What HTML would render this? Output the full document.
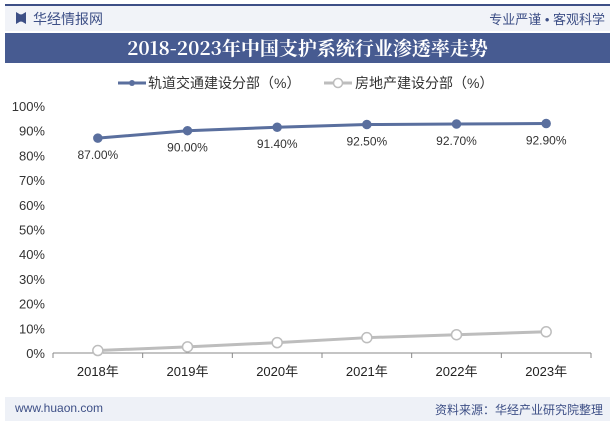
<!DOCTYPE html>
<html><head><meta charset="utf-8"><style>
body{margin:0;width:615px;height:426px;background:#fff;font-family:"Liberation Sans","Noto Sans CJK SC",sans-serif;position:relative;overflow:hidden}
.abs{position:absolute}
</style></head><body>
<div class="abs" style="left:5px;top:4px;width:605px;height:2px;background:#3d4f86"></div>
<div class="abs" style="left:5px;top:6px;width:605px;height:25px;background:#f1f3f8"></div>
<div class="abs" style="left:16px;top:12px;width:10px;height:12px;background:#3d4f86;clip-path:polygon(0 0,40% 20%,60% 20%,100% 0,100% 100%,60% 80%,40% 80%,0 100%)"></div>
<div class="abs" style="left:33px;top:9px;font-size:14px;color:#3d4f86">华经情报网</div>
<div class="abs" style="right:10px;top:9px;font-size:13px;color:#3d4f86">专业严谨 • 客观科学</div>
<div class="abs" style="left:5px;top:33px;width:605px;height:30px;background:#475b91;color:#fff;font-family:'Noto Serif CJK SC','Liberation Serif',serif;font-weight:bold;font-size:19px;line-height:30px;text-align:center">2018-2023年中国支护系统行业渗透率走势</div>
<div class="abs" style="left:5px;top:397px;width:605px;height:24px;background:#eef1f7"></div>
<div class="abs" style="left:15px;top:401px;font-size:12px;color:#3d4f86">www.huaon.com</div>
<div class="abs" style="right:12px;top:401px;font-size:12px;color:#3d4f86">资料来源：华经产业研究院整理</div>
<svg class="abs" style="left:0;top:0" width="615" height="426" id="c"></svg>
<script>
const categories=["2018年","2019年","2020年","2021年","2022年","2023年"];
const railValues=[87.0,90.0,91.4,92.5,92.7,92.9];
const railLabels=["87.00%","90.00%","91.40%","92.50%","92.70%","92.90%"];
const realEstateValues=[1.0,2.5,4.2,6.2,7.4,8.6];
const yTicks=[0,10,20,30,40,50,60,70,80,90,100];
const NS="http://www.w3.org/2000/svg";
const svg=document.getElementById('c');
const x0=53,x1=591,y0=353,y1=106;
const bw=(x1-x0)/categories.length;
const xs=i=>x0+bw*(i+0.5);
const ys=v=>y0-(v/100)*(y0-y1);
function mk(t,a,p){const e=document.createElementNS(NS,t);for(const k in a)e.setAttribute(k,a[k]);(p||svg).appendChild(e);return e;}
yTicks.forEach(t=>{const e=mk('text',{x:x0-8,y:ys(t)+5,'text-anchor':'end','font-size':13,fill:'#333'});e.textContent=t+'%';

});
const ax=mk('line',{x1:x0,y1:y0,x2:x1,y2:y0,stroke:'#888'});


for(let i=0;i<=categories.length;i++){mk('line',{x1:x0+bw*i,y1:y0,x2:x0+bw*i,y2:y0+5,stroke:'#888'});}
categories.forEach((c,i)=>{const e=mk('text',{x:xs(i),y:y0+23,'text-anchor':'middle','font-size':13,fill:'#222'});e.textContent=c;

});
function series(vals,color,fill,r,name){
const l=mk('polyline',{points:vals.map((v,i)=>xs(i)+','+ys(v)).join(' '),fill:'none',stroke:color,'stroke-width':3});


vals.forEach((v,i)=>{const c=mk('circle',{cx:xs(i),cy:ys(v),r:r,fill:fill,stroke:color,'stroke-width':1.5});

});}
series(railValues,'#5a6f9e','#5a6f9e',4,'rail');
series(realEstateValues,'#bdbdbd','#fff',5,'real-estate');
railValues.forEach((v,i)=>{const e=mk('text',{x:xs(i),y:ys(v)+21,'text-anchor':'middle','font-size':12,fill:'#333'});e.textContent=railLabels[i];

});
// legend
mk('line',{x1:118,y1:83,x2:146,y2:83,stroke:'#5a6f9e','stroke-width':3});
mk('circle',{cx:132,cy:83,r:3,fill:'#5a6f9e'});
const t1=mk('text',{x:148,y:88,'font-size':14,fill:'#333'});t1.textContent='轨道交通建设分部（%）';


mk('line',{x1:324,y1:83,x2:352,y2:83,stroke:'#bdbdbd','stroke-width':3});
mk('circle',{cx:338,cy:83,r:4.5,fill:'#fff',stroke:'#bdbdbd','stroke-width':1.5});
const t2=mk('text',{x:355,y:88,'font-size':14,fill:'#333'});t2.textContent='房地产建设分部（%）';


</script>
</body></html>
